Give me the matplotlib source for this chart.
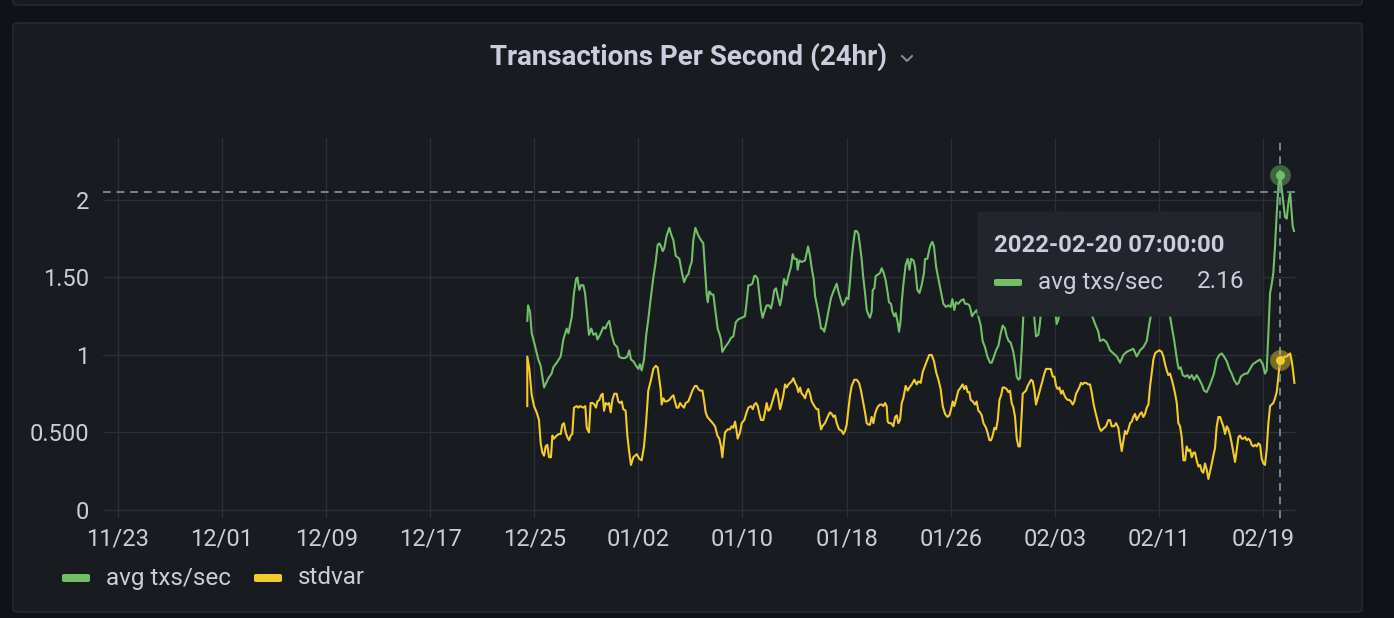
import numpy as np
import pandas as pd
import matplotlib
matplotlib.use("Agg")
import matplotlib.pyplot as plt
import matplotlib.dates as mdates
from matplotlib.patches import FancyBboxPatch
from matplotlib.lines import Line2D

plt.rcParams["font.family"] = ["Roboto", "DejaVu Sans"]

# ---- data: days after 2021-12-25 00:00 --------------------------------------
START = pd.Timestamp("2021-12-25")

avg_days = [
    -0.54, -0.48, -0.33, -0.20, 0.05, 0.31, 0.49, 0.75, 1.08, 1.33, 1.46, 1.72,
    2.03, 2.23, 2.49, 2.62, 2.74, 2.87, 3.05, 3.21, 3.31, 3.46, 3.59, 3.77,
    3.90, 4.03, 4.20, 4.38, 4.54, 4.74, 4.85, 5.05, 5.31, 5.46, 5.61, 5.77,
    5.95, 6.15, 6.38, 6.51, 6.72, 6.97, 7.15, 7.30, 7.43, 7.61, 7.82, 8.00,
    8.12, 8.25, 8.43, 8.59, 8.76, 8.94, 9.15, 9.33, 9.48, 9.61, 9.74, 9.87,
    9.99, 10.17, 10.38, 10.51, 10.69, 10.87, 11.15, 11.35, 11.51, 11.71, 11.84,
    11.97, 12.10, 12.22, 12.38, 12.56, 12.74, 12.99, 13.12, 13.25, 13.33,
    13.45, 13.63, 13.76, 13.94, 14.09, 14.22,
    14.35, 14.45, 14.66, 14.92, 15.12, 15.30, 15.48, 15.68, 15.94, 16.19,
    16.32, 16.45, 16.58, 16.76, 16.91, 17.02, 17.17, 17.30, 17.43, 17.55,
    17.73, 17.86, 18.04, 18.19, 18.30, 18.45, 18.58, 18.71, 18.89, 19.01,
    19.19, 19.37, 19.53, 19.73, 19.86, 19.99, 20.17, 20.24, 20.37, 20.55,
    20.81, 20.94, 21.04, 21.19, 21.32, 21.47, 21.58, 21.75, 21.91, 22.04,
    22.16, 22.29, 22.47, 22.60, 22.81, 22.99, 23.24, 23.37, 23.58, 23.70,
    23.83, 23.99, 24.14, 24.27, 24.39, 24.52, 24.65, 24.78, 24.91, 25.04,
    25.16, 25.27, 25.42, 25.55, 25.68, 25.80, 25.93, 26.01, 26.14, 26.24,
    26.44, 26.57, 26.70, 26.85, 27.01, 27.16, 27.26, 27.42, 27.52, 27.67,
    27.78, 27.93, 28.03, 28.14, 28.24, 28.36, 28.54, 28.70, 28.83, 28.96,
    29.14, 29.26,
    29.44, 29.60, 29.77, 29.95, 30.03, 30.21, 30.36, 30.46, 30.59, 30.72,
    30.88, 31.06, 31.23, 31.44, 31.64, 31.82, 32.00, 32.13, 32.28, 32.41,
    32.59, 32.77, 32.98, 33.11, 33.28, 33.44, 33.54, 33.64, 33.80, 34.00,
    34.13, 34.31, 34.46, 34.64, 34.82, 35.03, 35.16, 35.33, 35.49, 35.67,
    35.85, 36.00, 36.18, 36.31, 36.46, 36.61, 36.82, 36.95, 37.08, 37.21,
    37.33, 37.46, 37.59, 37.85, 38.05, 38.25, 38.41, 38.56, 38.74, 38.87,
    38.92, 39.30, 39.60, 40.07, 40.15, 40.28, 40.60, 41.00, 41.50, 42.00,
    42.40, 42.84,
    43.10, 43.35, 43.48, 43.74, 44.00, 44.25, 44.51, 44.77, 45.02, 45.28,
    45.53, 45.79, 46.04, 46.30, 46.56, 46.81, 47.07, 47.27, 47.38, 47.70,
    48.00, 48.40, 48.86,
    49.00, 49.17, 49.33, 49.43, 49.53, 49.68, 49.84, 50.02, 50.20, 50.35,
    50.53, 50.71, 50.91, 51.12, 51.30, 51.48, 51.68, 51.89, 52.07, 52.24,
    52.45, 52.65, 52.83, 53.01, 53.22, 53.42, 53.60, 53.78, 53.99, 54.14,
    54.30, 54.45, 54.63, 54.81, 55.01, 55.22, 55.40, 55.57, 55.78, 55.99,
    56.16, 56.29, 56.42, 56.55, 56.68, 56.80, 56.93, 57.06, 57.19, 57.32,
    57.52, 57.70, 57.83, 57.96, 58.09, 58.19, 58.29, 58.39,
]
avg_vals = [
    1.22, 1.32, 1.28, 1.14, 1.06, 0.97, 0.93, 0.79, 0.85, 0.88, 0.92, 0.95,
    0.99, 1.10, 1.17, 1.14, 1.19, 1.24, 1.40, 1.49, 1.50, 1.42, 1.45, 1.45,
    1.40, 1.29, 1.13, 1.17, 1.13, 1.14, 1.10, 1.13, 1.18, 1.17, 1.20, 1.22,
    1.13, 1.07, 1.05, 0.99, 0.98, 0.98, 0.99, 1.03, 0.97, 0.96, 0.93, 0.91,
    0.94, 0.90, 0.97, 1.12, 1.23, 1.36, 1.50, 1.60, 1.71, 1.72, 1.70, 1.67,
    1.69, 1.77, 1.82, 1.78, 1.74, 1.64, 1.62, 1.53, 1.47, 1.51, 1.52,
    1.57, 1.60, 1.74, 1.82, 1.78, 1.75, 1.72, 1.55, 1.39, 1.34,
    1.41, 1.39, 1.39, 1.27, 1.17, 1.14,
    1.10, 1.02, 1.05, 1.08, 1.11, 1.12, 1.21, 1.23, 1.24, 1.25,
    1.34, 1.45, 1.45, 1.46, 1.51, 1.51, 1.49, 1.39, 1.29, 1.24,
    1.29, 1.32, 1.32, 1.30, 1.34, 1.42, 1.43, 1.38, 1.32, 1.37,
    1.49, 1.45, 1.51, 1.57, 1.65, 1.62, 1.62, 1.55, 1.61, 1.60,
    1.61, 1.66, 1.70, 1.64, 1.56, 1.49, 1.38, 1.31, 1.24, 1.17,
    1.17, 1.15, 1.22, 1.28, 1.37, 1.41, 1.46, 1.41, 1.35, 1.32,
    1.33, 1.37, 1.36, 1.48, 1.62, 1.72, 1.80, 1.80, 1.78, 1.70,
    1.62, 1.51, 1.40, 1.29, 1.26, 1.24, 1.28, 1.42, 1.43, 1.51,
    1.52, 1.53, 1.56, 1.53, 1.48, 1.40, 1.34, 1.33, 1.28, 1.25,
    1.27, 1.21, 1.15, 1.21, 1.34, 1.45, 1.58, 1.62, 1.55, 1.62,
    1.61, 1.57,
    1.42, 1.40, 1.45, 1.53, 1.62, 1.62, 1.68, 1.71, 1.73, 1.70,
    1.57, 1.49, 1.42, 1.33, 1.31, 1.32, 1.31, 1.36, 1.29, 1.34,
    1.33, 1.35, 1.36, 1.33, 1.33, 1.32, 1.29, 1.25, 1.27, 1.29,
    1.25, 1.19, 1.09, 1.05, 0.99, 0.95, 0.95, 0.99, 1.03, 1.06,
    1.14, 1.19, 1.17, 1.12, 1.09, 1.08, 1.02, 0.95, 0.86, 0.84,
    0.85, 1.04, 1.26, 1.55, 1.62, 1.45, 1.26, 1.12, 1.13, 1.21,
    1.26, 1.50, 1.55, 1.26, 1.20, 1.23, 1.45, 1.55, 1.50, 1.60,
    1.45, 1.26,
    1.20, 1.15, 1.09, 1.10, 1.08, 1.03, 1.01, 0.99, 0.95, 1.00,
    1.02, 1.03, 1.04, 0.99, 1.03, 1.05, 1.09, 1.20, 1.25, 1.55,
    1.65, 1.55, 1.25,
    1.18, 1.10, 1.01, 0.95, 0.91, 0.92, 0.87, 0.86, 0.87, 0.85,
    0.87, 0.84, 0.87, 0.84, 0.81, 0.77, 0.76, 0.80, 0.84, 0.88,
    0.97, 1.00, 1.01, 0.99, 0.96, 0.91, 0.88, 0.84, 0.81, 0.82,
    0.86, 0.87, 0.88, 0.88, 0.91, 0.94, 0.95, 0.96, 0.97, 0.94,
    0.88, 0.90, 1.14, 1.40, 1.46, 1.53, 1.70, 1.91, 2.09, 2.16,
    2.02, 1.89, 1.88, 1.98, 2.05, 1.94, 1.83, 1.80,
]

std_days = [
    -0.54, -0.54, -0.38, -0.20, -0.02, 0.18, 0.36, 0.49, 0.62, 0.75, 0.87,
    1.00, 1.13, 1.28, 1.39, 1.51, 1.72, 1.90, 2.03, 2.15, 2.28, 2.41, 2.54,
    2.67, 2.80, 2.92, 3.05, 3.26, 3.38, 3.51, 3.77, 3.92, 4.03, 4.20, 4.33,
    4.49, 4.61, 4.74, 4.85, 5.00, 5.13, 5.25, 5.36, 5.49, 5.61, 5.74, 5.87,
    6.00, 6.15, 6.33, 6.46, 6.59, 6.72, 6.84, 7.02, 7.15, 7.30, 7.43, 7.61,
    7.74, 7.87, 8.07, 8.25, 8.43, 8.59, 8.76, 8.97, 9.15, 9.33, 9.48, 9.61,
    9.71, 9.79, 9.92, 10.05, 10.17, 10.38, 10.56, 10.69, 10.81, 10.94, 11.07,
    11.20, 11.38, 11.51, 11.63, 11.84, 11.97, 12.15, 12.35, 12.48, 12.61,
    12.74, 12.92, 13.04, 13.17, 13.30, 13.51, 13.71, 13.89, 14.07, 14.22,
    14.35, 14.45, 14.56, 14.66, 14.86, 15.04, 15.17, 15.30, 15.43, 15.53,
    15.63, 15.81, 15.94, 16.14, 16.32, 16.45, 16.66, 16.79, 16.91, 17.04,
    17.17, 17.30, 17.43, 17.60, 17.73, 17.86, 17.99, 18.12, 18.30, 18.45,
    18.58, 18.71, 18.89, 19.01, 19.14, 19.27, 19.39, 19.53, 19.65, 19.78,
    19.91, 20.04, 20.17, 20.30, 20.43, 20.55, 20.68, 20.81, 20.94, 21.06,
    21.19, 21.32, 21.53, 21.70, 21.83, 21.91, 22.04, 22.14, 22.34, 22.60,
    22.73, 22.86, 22.99, 23.11, 23.24, 23.42, 23.63, 23.75, 23.88, 24.01,
    24.14, 24.27, 24.39, 24.60, 24.78, 24.96, 25.11, 25.24, 25.42, 25.55,
    25.68, 25.80, 25.93, 26.06, 26.19, 26.31, 26.44, 26.57, 26.70, 26.83,
    26.96, 27.08, 27.16, 27.26, 27.42, 27.60, 27.73, 27.86, 27.98, 28.11,
    28.24, 28.36, 28.54, 28.70, 28.83, 29.01, 29.21,
    29.39, 29.52, 29.70, 29.85, 30.03, 30.21, 30.36, 30.54, 30.72, 30.88,
    31.06, 31.23, 31.39, 31.57, 31.75, 31.90, 32.03, 32.16, 32.28, 32.41,
    32.59, 32.77, 32.92, 33.05, 33.18, 33.31, 33.44, 33.54, 33.70, 33.87,
    34.00, 34.13, 34.26, 34.39, 34.52, 34.72, 34.83, 34.98, 35.11, 35.23,
    35.36, 35.49, 35.62, 35.75, 35.88, 36.00, 36.13, 36.31, 36.44, 36.56,
    36.69, 36.82, 36.95, 37.08, 37.21, 37.33, 37.41, 37.54, 37.67, 37.79,
    37.92, 38.05, 38.18, 38.31, 38.44, 38.56, 38.66, 38.82, 38.95, 39.08,
    39.20, 39.33, 39.51, 39.69, 39.85, 39.98, 40.10, 40.23, 40.36, 40.49,
    40.61, 40.74, 40.87, 41.00, 41.13, 41.25, 41.38, 41.51, 41.64, 41.77,
    41.89, 42.02, 42.15, 42.25, 42.40, 42.58, 42.71, 42.84, 42.97, 43.10,
    43.28, 43.43, 43.56, 43.69, 43.81, 43.94, 44.12, 44.25,
    44.38, 44.56, 44.71, 44.89, 45.02, 45.15, 45.28, 45.40, 45.53, 45.66,
    45.79, 45.92, 46.04, 46.17, 46.30, 46.43, 46.56, 46.68, 46.81, 46.94,
    47.07, 47.20, 47.33, 47.45, 47.58, 47.71, 47.84, 48.04, 48.22, 48.35,
    48.48, 48.61, 48.73, 48.86, 49.00, 49.12, 49.25, 49.38, 49.50, 49.63,
    49.76, 49.89, 50.02, 50.14, 50.27, 50.40, 50.53, 50.66, 50.78, 50.91,
    51.04, 51.17, 51.30, 51.42, 51.55, 51.68, 51.81, 51.94, 52.07, 52.19,
    52.32, 52.45, 52.58, 52.71, 52.83, 52.96, 53.09, 53.22, 53.35, 53.48,
    53.60, 53.73, 53.86, 53.99, 54.12, 54.24, 54.37, 54.50, 54.63, 54.76,
    54.88, 55.01, 55.14, 55.27, 55.40, 55.53, 55.65, 55.78, 55.91, 56.04,
    56.16, 56.29, 56.42, 56.55, 56.68, 56.80, 56.93, 57.06, 57.19, 57.32,
    57.44, 57.57, 57.70, 57.83, 57.96, 58.09, 58.22, 58.34, 58.42,
]
std_vals = [
    0.67, 0.99, 0.91, 0.74, 0.67, 0.63, 0.58, 0.43, 0.37, 0.35, 0.41,
    0.42, 0.34, 0.34, 0.48, 0.46, 0.48, 0.49, 0.49, 0.55, 0.56, 0.50, 0.47,
    0.45, 0.48, 0.49, 0.66, 0.67, 0.66, 0.67, 0.66, 0.67, 0.53, 0.50, 0.69,
    0.69, 0.68, 0.66, 0.70, 0.71, 0.74, 0.75, 0.64, 0.69, 0.68, 0.69, 0.63,
    0.71, 0.75, 0.75, 0.70, 0.69, 0.70, 0.65, 0.64, 0.48, 0.37, 0.29, 0.34,
    0.35, 0.36, 0.33, 0.32, 0.41, 0.56, 0.77, 0.84, 0.91, 0.93, 0.92, 0.84,
    0.78, 0.68, 0.72, 0.70, 0.70, 0.71, 0.73, 0.74, 0.70, 0.66, 0.66,
    0.69, 0.67, 0.66, 0.69, 0.70, 0.73, 0.77, 0.80, 0.80, 0.78,
    0.77, 0.77, 0.71, 0.63, 0.60, 0.58, 0.56, 0.54, 0.48, 0.46,
    0.41, 0.34, 0.43, 0.50, 0.52, 0.52, 0.54, 0.53, 0.57, 0.52,
    0.46, 0.50, 0.56, 0.58, 0.63, 0.66, 0.67, 0.65, 0.68, 0.69,
    0.67, 0.62, 0.58, 0.58, 0.63, 0.69, 0.64, 0.65, 0.70, 0.74,
    0.78, 0.75, 0.65, 0.69, 0.74, 0.81, 0.79, 0.81, 0.82, 0.83,
    0.85, 0.82, 0.80, 0.76, 0.79, 0.75, 0.74, 0.72, 0.76, 0.78,
    0.75, 0.70, 0.67, 0.65, 0.65, 0.58, 0.52, 0.54, 0.56, 0.61,
    0.63, 0.62, 0.60, 0.61, 0.56, 0.52, 0.51, 0.49, 0.51, 0.55,
    0.65, 0.74, 0.80, 0.84, 0.84, 0.82, 0.77, 0.71, 0.63, 0.56,
    0.55, 0.55, 0.60, 0.56, 0.62, 0.65, 0.67, 0.68, 0.68, 0.67,
    0.69, 0.67, 0.57, 0.56, 0.56, 0.54, 0.60, 0.61, 0.56, 0.58,
    0.69, 0.72, 0.80, 0.77, 0.79, 0.81, 0.84,
    0.81, 0.83, 0.82, 0.89, 0.93, 0.97, 1.00, 1.00, 0.96, 0.89,
    0.84, 0.78, 0.67, 0.62, 0.60, 0.61, 0.65, 0.70, 0.67, 0.71,
    0.77, 0.79, 0.81, 0.78, 0.80, 0.76, 0.76, 0.71, 0.70, 0.68,
    0.70, 0.64, 0.63, 0.61, 0.56, 0.53, 0.50, 0.45, 0.45, 0.48,
    0.53, 0.52, 0.58, 0.71, 0.74, 0.79, 0.79, 0.78, 0.76, 0.77,
    0.69, 0.66, 0.60, 0.46, 0.41, 0.41, 0.54, 0.75, 0.76, 0.77,
    0.80, 0.82, 0.84, 0.83, 0.77, 0.68, 0.71, 0.76, 0.80, 0.84,
    0.88, 0.91, 0.91, 0.91, 0.86, 0.86, 0.80, 0.78, 0.79, 0.75,
    0.77, 0.74, 0.72, 0.71, 0.71, 0.70, 0.68, 0.70, 0.75, 0.77,
    0.79, 0.82, 0.81, 0.82, 0.82, 0.81, 0.81, 0.76, 0.69, 0.64,
    0.58, 0.53, 0.51, 0.52, 0.53, 0.54, 0.58, 0.58,
    0.54, 0.54, 0.56, 0.53, 0.45, 0.38, 0.45, 0.51, 0.49, 0.52,
    0.56, 0.57, 0.60, 0.62, 0.58, 0.60, 0.62, 0.63, 0.60, 0.62,
    0.66, 0.68, 0.80, 0.88, 0.97, 1.01, 1.02, 1.03, 1.02, 0.99,
    0.94, 0.90, 0.87, 0.88, 0.84, 0.80, 0.75, 0.69, 0.56, 0.54,
    0.47, 0.32, 0.32, 0.41, 0.38, 0.39, 0.34, 0.37, 0.37, 0.32,
    0.28, 0.29, 0.25, 0.24, 0.30, 0.26, 0.20, 0.25, 0.30, 0.35,
    0.40, 0.54, 0.60, 0.60, 0.57, 0.54, 0.49, 0.54, 0.52, 0.48,
    0.43, 0.37, 0.31, 0.39, 0.47, 0.48, 0.46, 0.46, 0.47, 0.45,
    0.46, 0.45, 0.42, 0.41, 0.42, 0.41, 0.43, 0.42, 0.33, 0.30,
    0.29, 0.39, 0.56, 0.67, 0.68, 0.69, 0.72, 0.76, 0.86, 0.97,
    0.96, 0.98, 0.99, 0.99, 1.00, 1.01, 0.96, 0.88, 0.82,
]

hover_time = pd.Timestamp("2022-02-20 07:00:00")
hover_avg, hover_std = 2.16, 0.97
cursor_y = 2.05

y_ticks = [0, 0.5, 1, 1.5, 2]
y_labels = ["0", "0.500", "1", "1.50", "2"]
x_ticks = pd.date_range("2021-11-23", "2022-02-19", freq="8D")

GREEN, YELLOW = "#73bf69", "#f2cc2a"
TXT, GRID, CROSS = "#ccccdc", "#2c2f35", "#6c8a99"
W, H = 1394, 618


def fx(px):
    return px / W


def fy(py):
    return 1 - py / H


fig = plt.figure(figsize=(W / 100, H / 100), dpi=100, facecolor="#111217")

# panel chrome (kept behind the axes)
for top, bot in [(-40, 5), (23, 612)]:
    fig.patches.append(FancyBboxPatch((fx(13), fy(bot)), fx(1349), fy(top) - fy(bot),
                                      boxstyle="round,pad=0,rounding_size=0.004",
                                      transform=fig.transFigure, fc="#181b1f",
                                      ec="#26292f", lw=1.2, zorder=-5))

fig.text(fx(688), fy(57), "Transactions Per Second (24hr)", color=TXT,
         fontsize=20, fontweight="bold", ha="center", va="center")
fig.add_artist(Line2D([fx(902), fx(907), fx(912)], [fy(56), fy(61), fy(56)],
                      color="#8e8e98", lw=1.4, transform=fig.transFigure))

ax = fig.add_axes([fx(103), fy(518), fx(1297) - fx(103), fy(138) - fy(518)])
ax.set_zorder(1)
ax.set_facecolor("none")
for s in ax.spines.values():
    s.set_visible(False)

t_avg = START + pd.to_timedelta(avg_days, unit="D")
t_std = START + pd.to_timedelta(std_days, unit="D")
ax.plot(t_avg, avg_vals, color=GREEN, lw=1.5, zorder=3)
ax.plot(t_std, std_vals, color=YELLOW, lw=1.5, zorder=3)

ax.set_xlim(START + pd.Timedelta(days=-33.15), START + pd.Timedelta(days=58.62))
ax.set_ylim(-0.052, 2.4)
ax.set_yticks(y_ticks)
ax.set_yticklabels(y_labels)
ax.set_xticks(x_ticks)
ax.xaxis.set_major_formatter(mdates.DateFormatter("%m/%d"))
ax.tick_params(length=0, colors=TXT, labelsize=17)
ax.tick_params(axis="x", pad=7)
ax.tick_params(axis="y", pad=10)
for t in x_ticks:
    ax.axvline(t, color=GRID, lw=1, zorder=0)
for v in y_ticks:
    ax.axhline(v, color=GRID, lw=1, zorder=0)

# hover crosshair and points
ax.axhline(cursor_y, color=CROSS, lw=1.4, ls=(0, (4, 3)), zorder=4)
ax.axvline(hover_time, color=CROSS, lw=1.4, ls=(0, (4, 3)), zorder=4)
for v, c in [(hover_avg, GREEN), (hover_std, YELLOW)]:
    ax.plot([hover_time], [v], "o", ms=15, color=c, alpha=0.45, mec="none", zorder=5)
    ax.plot([hover_time], [v], "o", ms=6.5, color=c, mec="none", zorder=6)

# tooltip (over the axes)
fig.patches.append(FancyBboxPatch((fx(978), fy(316)), fx(283), fy(212) - fy(316),
                                  boxstyle="round,pad=0,rounding_size=0.003",
                                  transform=fig.transFigure, fc="#22252b",
                                  ec="#22252b", zorder=10))
fig.text(fx(994), fy(246), "2022-02-20 07:00:00", color=TXT, fontsize=17.2,
         fontweight="bold", ha="left", va="center", zorder=11)
fig.patches.append(FancyBboxPatch((fx(994), fy(286)), fx(28), fy(279) - fy(286),
                                  boxstyle="round,pad=0,rounding_size=0.002",
                                  transform=fig.transFigure, fc=GREEN, ec="none",
                                  zorder=11))
fig.text(fx(1038), fy(282), "avg txs/sec", color=TXT, fontsize=17.5,
         ha="left", va="center", zorder=11)
fig.text(fx(1244), fy(282), f"{hover_avg:.2f}", color=TXT, fontsize=17.5,
         ha="right", va="center", zorder=11)

# legend
for x0, c, label in [(62, GREEN, "avg txs/sec"), (254, YELLOW, "stdvar")]:
    fig.patches.append(FancyBboxPatch((fx(x0), fy(582)), fx(28), fy(574) - fy(582),
                                      boxstyle="round,pad=0,rounding_size=0.002",
                                      transform=fig.transFigure, fc=c, ec="none"))
    fig.text(fx(x0 + 44), fy(578), label, color=TXT, fontsize=17.5,
             ha="left", va="center")

fig.savefig("out.png", dpi=100, facecolor=fig.get_facecolor())
